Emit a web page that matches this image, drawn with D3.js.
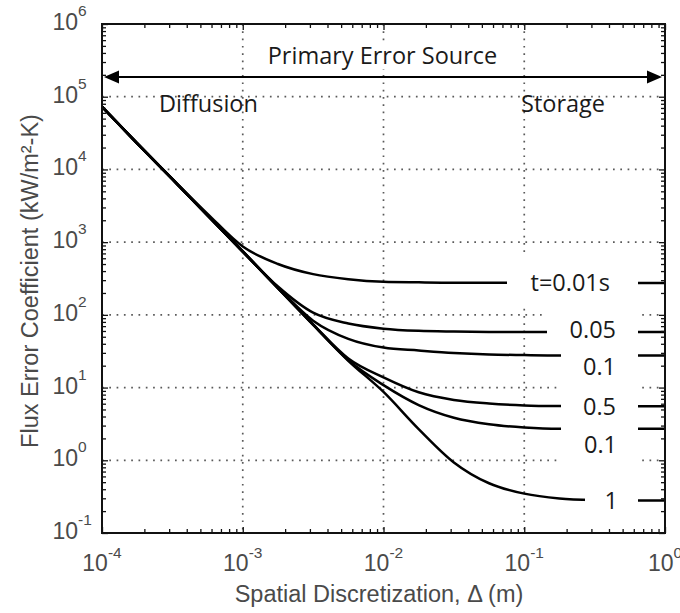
<!DOCTYPE html>
<html>
<head>
<meta charset="utf-8">
<script src="https://cdn.jsdelivr.net/npm/d3@7"></script>
<style>
  body { margin: 0; background: #fff; }
  svg { display: block; }
</style>
</head>
<body>
<svg id="chart" width="680" height="613"></svg>
<script>
// Spatial discretization Δ (m), sampled every quarter decade
const deltaM = [1e-4, 1.778e-4, 3.162e-4, 5.623e-4, 1e-3, 1.778e-3, 3.162e-3, 5.623e-3,
                1e-2, 1.778e-2, 3.162e-2, 5.623e-2, 1e-1, 1.778e-1, 3.162e-1, 5.623e-1, 1];

// Flux error coefficient (kW/m²-K) for each time step
const errT001 = [72800, 22900, 7410, 2455, 871, 501, 363, 309, 285, 280, 277, 277, 275, 275, 275, 275, 275];
const errT005 = [72800, 22900, 7330, 2340, 750, 245, 107, 75.9, 64.6, 60.3, 58.9, 58.2, 58.0, 58.0, 58.0, 58.0, 58.0];
const errT01a = [72800, 22900, 7330, 2340, 741, 237, 83.2, 46.8, 35.5, 32.4, 29.9, 28.5, 28.0, 27.7, 27.7, 27.7, 27.7];
const errT05  = [72800, 22900, 7330, 2340, 741, 234, 74.1, 25.1, 13.8, 8.61, 6.76, 6.03, 5.69, 5.56, 5.52, 5.52, 5.52];
const errT01b = [72800, 22900, 7330, 2340, 741, 234, 73.3, 23.7, 10.8, 5.75, 3.85, 3.13, 2.83, 2.72, 2.72, 2.72, 2.72];
const errT1   = [72800, 22900, 7330, 2340, 741, 234, 72.8, 23.4, 8.71, 2.69, 0.935, 0.483, 0.348, 0.299, 0.284, 0.280, 0.279];

const seriesValues = [errT001, errT005, errT01a, errT05, errT01b, errT1];
const seriesLabels = ["t=0.01s", "0.05", "0.1", "0.5", "0.1", "1"];

// Axis ticks
const xDecades = [-4, -3, -2, -1, 0];
const yDecades = [-1, 0, 1, 2, 3, 4, 5, 6];
const xTickLabels = ["-4", "-3", "-2", "-1", "0"];
const yTickLabels = ["-1", "0", "1", "2", "3", "4", "5", "6"];

const svg = d3.select("#chart");
const plotL = 102, plotR = 665, plotT = 24, plotB = 533;

const x = d3.scaleLog().domain([1e-4, 1]).range([plotL, plotR]);
const y = d3.scaleLog().domain([1e-1, 1e6]).range([plotB, plotT]);

svg.append("rect").attr("width", 680).attr("height", 613).attr("fill", "#fff");

// Dotted grid at interior decades
const grid = svg.append("g")
  .attr("stroke", "#5a5a5a").attr("stroke-width", 1.7)
  .attr("stroke-dasharray", "1.7,5.6");
xDecades.slice(1, -1).forEach(d => {
  const px = x(Math.pow(10, d));
  grid.append("line").attr("x1", px).attr("x2", px).attr("y1", plotT).attr("y2", plotB);
});
yDecades.slice(1, -1).forEach(d => {
  const py = y(Math.pow(10, d));
  grid.append("line").attr("x1", plotL).attr("x2", plotR).attr("y1", py).attr("y2", py);
});

// Error curves
const line = d3.line()
  .x((d, i) => x(deltaM[i]))
  .y(d => y(d))
  .curve(d3.curveMonotoneX);

svg.append("g").selectAll("path")
  .data(seriesValues)
  .join("path")
  .attr("d", line)
  .attr("fill", "none")
  .attr("stroke", "#000")
  .attr("stroke-width", 2.5)
  .attr("stroke-linejoin", "round");

// Label panels with white background, so each curve appears to pass behind its label
const labelBoxes = [
  { x0: 507, x1: 638, y0: 257, y1: 307, tx: 610, ty: 291 },
  { x0: 547, x1: 638, y0: 309, y1: 345, tx: 616, ty: 338 },
  { x0: 561, x1: 638, y0: 349, y1: 385, tx: 616, ty: 374.5 },
  { x0: 561, x1: 638, y0: 386, y1: 420, tx: 616, ty: 414.5 },
  { x0: 561, x1: 638, y0: 422, y1: 465, tx: 617, ty: 453 },
  { x0: 585, x1: 638, y0: 480, y1: 520, tx: 618, ty: 509 }
];
const lbl = svg.append("g");
labelBoxes.forEach((b, i) => {
  lbl.append("rect")
    .attr("x", b.x0).attr("y", b.y0)
    .attr("width", b.x1 - b.x0).attr("height", b.y1 - b.y0)
    .attr("fill", "#fff");
  lbl.append("text")
    .attr("x", b.tx).attr("y", b.ty)
    .attr("text-anchor", "end")
    .attr("font-family", "'Open Sans', sans-serif")
    .attr("font-size", 23.5)
    .attr("fill", "#1a1a1a")
    .text(seriesLabels[i]);
});

// Primary error source annotation
const ann = svg.append("g").attr("font-family", "'Open Sans', sans-serif")
  .attr("font-size", 23.5).attr("fill", "#1a1a1a");
const titleText = ann.append("text")
  .attr("x", 382.5).attr("y", 64)
  .attr("text-anchor", "middle")
  .text("Primary Error Source");
const bb = titleText.node().getBBox();
ann.insert("rect", "text")
  .attr("x", bb.x - 4).attr("y", bb.y + 2)
  .attr("width", bb.width + 8).attr("height", bb.height - 4)
  .attr("fill", "#fff");

const arrowY = 77, ax0 = 104, ax1 = 662, headL = 15, headW = 6.5;
ann.append("line")
  .attr("x1", ax0 + headL - 1).attr("x2", ax1 - headL + 1)
  .attr("y1", arrowY).attr("y2", arrowY)
  .attr("stroke", "#000").attr("stroke-width", 2);
ann.append("path")
  .attr("d", `M${ax0},${arrowY}L${ax0 + headL},${arrowY - headW}L${ax0 + headL},${arrowY + headW}Z`)
  .attr("fill", "#000");
ann.append("path")
  .attr("d", `M${ax1},${arrowY}L${ax1 - headL},${arrowY - headW}L${ax1 - headL},${arrowY + headW}Z`)
  .attr("fill", "#000");

ann.append("text").attr("x", 159).attr("y", 112).text("Diffusion");
ann.append("text").attr("x", 521).attr("y", 112).text("Storage");

// Frame with inward major and minor ticks on all four sides
const majorX = xDecades.map(d => Math.pow(10, d));
const majorY = yDecades.map(d => Math.pow(10, d));
const minorX = [], minorY = [];
xDecades.slice(0, -1).forEach(d => { for (let k = 2; k <= 9; k++) minorX.push(k * Math.pow(10, d)); });
yDecades.slice(0, -1).forEach(d => { for (let k = 2; k <= 9; k++) minorY.push(k * Math.pow(10, d)); });

function tickAxis(axisFn, scale, values, size, transform) {
  const g = svg.append("g").attr("transform", transform)
    .call(axisFn(scale).tickValues(values).tickSize(-size).tickSizeOuter(0).tickFormat(""));
  g.select(".domain").remove();
  g.selectAll(".tick line").attr("stroke", "#111").attr("stroke-width", 1.3);
}
tickAxis(d3.axisBottom, x, majorX, 6, `translate(0,${plotB})`);
tickAxis(d3.axisBottom, x, minorX, 4, `translate(0,${plotB})`);
tickAxis(d3.axisTop, x, majorX, 6, `translate(0,${plotT})`);
tickAxis(d3.axisTop, x, minorX, 4, `translate(0,${plotT})`);
tickAxis(d3.axisLeft, y, majorY, 6, `translate(${plotL},0)`);
tickAxis(d3.axisLeft, y, minorY, 4, `translate(${plotL},0)`);
tickAxis(d3.axisRight, y, majorY, 6, `translate(${plotR},0)`);
tickAxis(d3.axisRight, y, minorY, 4, `translate(${plotR},0)`);

svg.append("rect")
  .attr("x", plotL).attr("y", plotT)
  .attr("width", plotR - plotL).attr("height", plotB - plotT)
  .attr("fill", "none").attr("stroke", "#111").attr("stroke-width", 2);

// Tick labels as powers of ten
const tickFont = "'Liberation Sans', Arial, sans-serif";
const tickColor = "#4a4a4a";
yDecades.forEach((d, i) => {
  const t = svg.append("text")
    .attr("x", 52.5).attr("y", y(Math.pow(10, d)) + 6)
    .attr("font-family", tickFont).attr("font-size", 23).attr("fill", tickColor);
  t.append("tspan").text("10");
  t.append("tspan").attr("font-size", 15.5).attr("dy", -14).text(yTickLabels[i]);
});
xDecades.forEach((d, i) => {
  const t = svg.append("text")
    .attr("x", x(Math.pow(10, d))).attr("y", 570.5)
    .attr("text-anchor", "middle")
    .attr("font-family", tickFont).attr("font-size", 23).attr("fill", tickColor);
  t.append("tspan").text("10");
  t.append("tspan").attr("font-size", 15.5).attr("dy", -13).text(xTickLabels[i]);
});

// Axis titles
svg.append("text")
  .attr("x", 379).attr("y", 601.5)
  .attr("text-anchor", "middle")
  .attr("font-family", tickFont).attr("font-size", 23.5).attr("fill", tickColor)
  .text("Spatial Discretization, Δ (m)");
svg.append("text")
  .attr("transform", "translate(38,281) rotate(-90)")
  .attr("text-anchor", "middle")
  .attr("font-family", tickFont).attr("font-size", 23.5).attr("fill", tickColor)
  .text("Flux Error Coefficient (kW/m²-K)");
</script>
</body>
</html>
